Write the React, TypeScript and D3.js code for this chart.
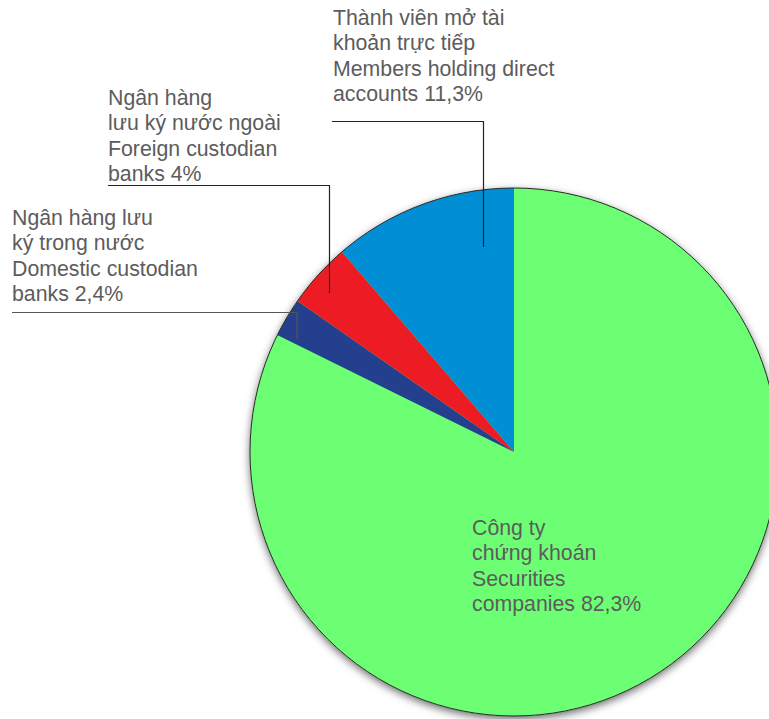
import React from "react";
import * as d3 from "d3";

const categories = [
  "Securities companies",
  "Domestic custodian banks",
  "Foreign custodian banks",
  "Members holding direct accounts",
];
const values = [82.3, 2.4, 4, 11.3];
const colors = ["#6cff74", "#243f8d", "#ed1c24", "#008fd5"];
const labels = [
  ["Công ty", "chứng khoán", "Securities", "companies 82,3%"],
  ["Ngân hàng lưu", "ký trong nước", "Domestic custodian", "banks 2,4%"],
  ["Ngân hàng", "lưu ký nước ngoài", "Foreign custodian", "banks 4%"],
  ["Thành viên mở tài", "khoản trực tiếp", "Members holding direct", "accounts 11,3%"],
];

const W = 769;
const H = 719;
const cx = 514;
const cy = 452;
const R = 264;
const lineH = 25.3;

// label layout: text origin (first baseline) and leader polyline
const layout = [
  { x: 472, y: 535, leader: null as null | number[][] },
  { x: 12, y: 225, leader: [[12, 312.5], [297, 312.5], [297, 339]], stroke: "#555" },
  { x: 108, y: 105, leader: [[108, 185.5], [329.5, 185.5], [329.5, 293]], stroke: "#222" },
  { x: 333, y: 25, leader: [[332, 121.5], [483.5, 121.5], [483.5, 247]], stroke: "#222" },
];

export default function App() {
  const pie = d3.pie<number>().sort(null).startAngle(0).endAngle(2 * Math.PI);
  const arcs = pie(values);
  const arc = d3.arc<d3.PieArcDatum<number>>().innerRadius(0).outerRadius(R);
  const line = d3.line();
  return (
    <svg
      width={W}
      height={H}
      style={{ position: "absolute", left: 0, top: 0, background: "#fff" }}
      fontFamily="'Liberation Sans', Arial, Helvetica, sans-serif"
    >
      <defs>
        <filter id="sh" x="-20%" y="-20%" width="140%" height="140%">
          <feDropShadow dx="0" dy="3" stdDeviation="4" floodColor="#000" floodOpacity="0.6" />
        </filter>
      </defs>
      <g transform={`translate(${cx},${cy})`}>
        <circle r={R} fill="#6cff74" filter="url(#sh)" />
        {arcs.map((a, i) => (
          <path key={categories[i]} d={arc(a) || ""} fill={colors[i]} />
        ))}
        <circle r={R} fill="none" stroke="#2a2a2a" strokeWidth={1} />
      </g>
      {layout.map((l, i) =>
        l.leader ? (
          <path
            key={"ld" + i}
            d={line(l.leader as [number, number][]) || ""}
            fill="none"
            stroke={(l as any).stroke}
            strokeWidth={1.2}
          />
        ) : null
      )}
      {layout.map((l, i) => (
        <text key={"tx" + i} x={l.x} y={l.y} fontSize={21.3} fill="#5c5c5c">
          {labels[i].map((t, j) => (
            <tspan key={j} x={l.x} y={l.y + j * lineH}>
              {t}
            </tspan>
          ))}
        </text>
      ))}
    </svg>
  );
}
